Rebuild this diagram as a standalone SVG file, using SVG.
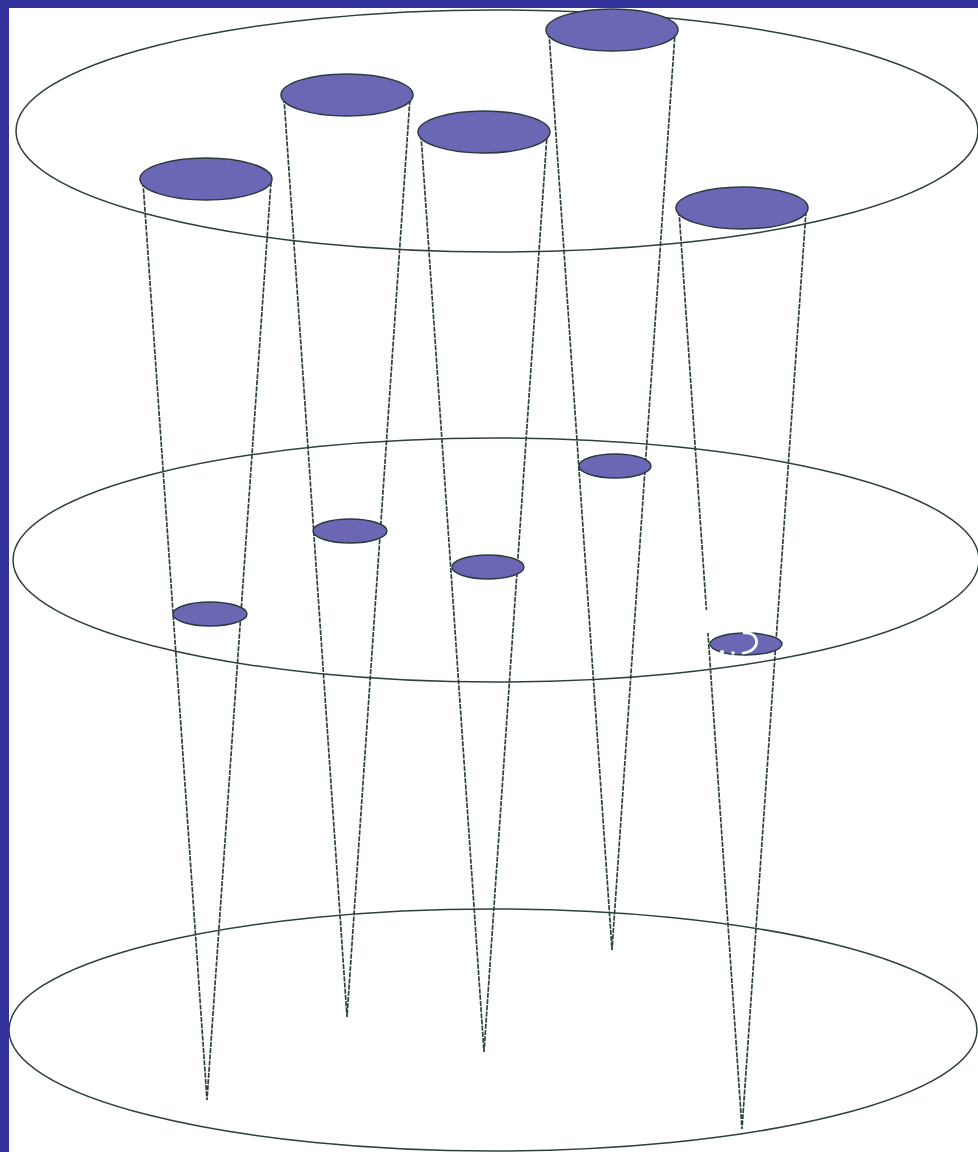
<svg xmlns="http://www.w3.org/2000/svg" width="978" height="1152" viewBox="0 0 978 1152">
<style>
.plane{fill:none;stroke:#2f403b;stroke-width:1.5}
.edge{fill:none;stroke:#2a433e;stroke-width:1.7;stroke-dasharray:5 1.2}
.top{fill:#6b67b5;stroke:#2c3a40;stroke-width:1.5}
.mid{fill:#6b67b5;stroke:#2c3a40;stroke-width:1.4}
</style>
<rect width="978" height="1152" fill="#ffffff"/>
<g id="planes">
  <ellipse id="plane-top" class="plane" cx="497" cy="131" rx="481" ry="121"/>
  <ellipse id="plane-middle" class="plane" cx="496" cy="560" rx="483" ry="122"/>
  <ellipse id="plane-bottom" class="plane" cx="493" cy="1030" rx="484" ry="121"/>
</g>
<g id="connectors"></g>
<g id="cone-1">
  <path class="edge" d="M143 182 L207 1100 L271 182"/>
  <ellipse class="top" cx="206" cy="179" rx="66" ry="21"/>
  <ellipse class="mid" cx="210" cy="614" rx="37" ry="12"/>
</g>
<g id="cone-2">
  <path class="edge" d="M284 98 L347 1017 L410 98"/>
  <ellipse class="top" cx="347" cy="95" rx="66" ry="21"/>
  <ellipse class="mid" cx="350" cy="531" rx="37" ry="12"/>
</g>
<g id="cone-3">
  <path class="edge" d="M421 135 L484 1052 L547 135"/>
  <ellipse class="top" cx="484" cy="132" rx="66" ry="21"/>
  <ellipse class="mid" cx="488" cy="567" rx="36" ry="12"/>
</g>
<g id="cone-4">
  <path class="edge" d="M549 33 L612 950 L675 33"/>
  <ellipse class="top" cx="612" cy="30" rx="66" ry="21"/>
  <ellipse class="mid" cx="615" cy="466" rx="36" ry="12"/>
</g>
<g id="cone-5">
  <path class="edge" d="M679 211 L742 1129 L806 211"/>
  <ellipse class="top" cx="742" cy="208" rx="66" ry="21"/>
  <ellipse class="mid" cx="746" cy="644" rx="36" ry="11"/>
  <path d="M704 610 L712 610 L713 633 L706 633 Z" fill="#ffffff"/>
  <path d="M744 633 C760 631 762 651 743 653" fill="none" stroke="#ffffff" stroke-width="2.6" stroke-linecap="round"/>
  <circle cx="722" cy="652" r="2" fill="#ffffff"/>
  <circle cx="733" cy="653" r="1.8" fill="#ffffff"/>
</g>
<g id="frame" fill="#32329a">
  <rect x="0" y="0" width="978" height="8"/>
  <rect x="0" y="0" width="9" height="1152"/>
</g>
</svg>
